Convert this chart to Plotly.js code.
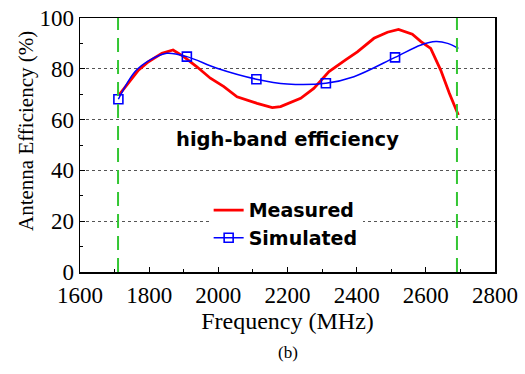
<!DOCTYPE html>
<html><head><meta charset="utf-8">
<script src="https://cdn.plot.ly/plotly-3.0.1.min.js"></script>
<style>html,body{margin:0;padding:0;background:#fff}#chart{width:525px;height:374px}</style>
</head><body><div id="chart"></div>
<script>
// Measured efficiency (MHz, %)
const measFreq = [1712,1735,1769,1798,1837,1869,1900,1938,1977,2016,2054,2112,2156,2180,2238,2276,2320,2368,2402,2450,2489,2521,2561,2586,2614,2643,2668,2694];
const measEff  = [69.5,73.6,79.5,82.8,86.1,87.4,84.8,80.8,76.3,73.0,69.0,66.4,64.7,65.1,68.4,72.3,78.9,83.5,86.7,92.0,94.4,95.5,93.6,90.7,88.0,79.5,70.4,61.8];
// Simulated efficiency curve
const simFreq = [1711,1760,1803,1851,1909,1996,2110,2199,2311,2392,2511,2586,2629,2663,2694];
const simEff  = [68.0,79.0,83.5,86.1,84.8,80.2,75.9,74.0,74.3,76.9,84.5,89.4,90.7,90.0,88.0];
// Simulated marker points
const simMarkFreq = [1711,1909,2110,2311,2511];
const simMarkEff  = [68.0,84.8,75.9,74.3,84.5];
// Band edges
const bandEdges = [1710,2690];
const xTicks = [1600,1800,2000,2200,2400,2600,2800];
const yTicks = [0,20,40,60,80,100];

const blue = '#0000ff', red = '#ff0000';
const serif = 'Liberation Serif, Times New Roman, serif';
const bold = 'DejaVu Sans, Verdana, sans-serif';

const traces = [
  {x: measFreq, y: measEff, mode: 'lines', name: 'Measured',
   line: {color: red, width: 2.8}},
  {x: simFreq, y: simEff, mode: 'lines', showlegend: false, legendgroup: 'sim',
   line: {color: blue, width: 1.5, shape: 'spline', smoothing: 1}},
  {x: simMarkFreq, y: simMarkEff, mode: 'markers', showlegend: false, legendgroup: 'sim',
   marker: {symbol: 'square-open', size: 9, color: blue, line: {width: 1.6, color: blue}}},
  {x: [null], y: [null], mode: 'lines+markers', name: 'Simulated', legendgroup: 'sim',
   line: {color: blue, width: 1.5},
   marker: {symbol: 'square-open', size: 9, color: blue, line: {width: 1.6, color: blue}}}
];

const shapes = bandEdges.map(f => ({
  type: 'line', xref: 'x', yref: 'y', x0: f, x1: f, y0: 0, y1: 100,
  line: {color: '#33c633', width: 2, dash: '14px,8px'}, layer: 'above'
}));

const layout = {
  width: 525, height: 374,
  margin: {l: 80, r: 30, t: 18, b: 102},
  paper_bgcolor: '#fff', plot_bgcolor: '#fff',
  showlegend: true,
  legend: {x: 0.31, y: 0.318, xanchor: 'left', yanchor: 'top', bgcolor: '#fff',
    font: {family: bold, size: 19, color: '#000', weight: 'bold'}, tracegroupgap: 0},
  xaxis: {range: [1600, 2800], tickvals: xTicks, ticks: 'inside', ticklen: 5,
    tickcolor: '#000', showline: true, linecolor: '#000', linewidth: 1.5, mirror: true,
    showgrid: false, zeroline: false, ticklabelstandoff: 2,
    minor: {dtick: 100, tick0: 1600, ticks: 'inside', ticklen: 3, tickcolor: '#000', showgrid: false},
    tickfont: {family: serif, size: 23, color: '#000'},
    title: {text: 'Frequency (MHz)', font: {family: serif, size: 24, color: '#000'}, standoff: 2}},
  yaxis: {range: [0, 100], tickvals: yTicks, ticks: 'inside', ticklen: 5,
    tickcolor: '#000', showline: true, linecolor: '#000', linewidth: 1.5, mirror: true,
    showgrid: true, gridcolor: '#555', griddash: 'dot', gridwidth: 1, zeroline: false,
    minor: {dtick: 10, tick0: 0, ticks: 'inside', ticklen: 3, tickcolor: '#000', showgrid: false},
    tickfont: {family: serif, size: 23, color: '#000'}},
  shapes: shapes,
  annotations: [
    {x: 2200, y: 52, xref: 'x', yref: 'y', text: '<b>high-band efficiency</b>', showarrow: false,
     font: {family: bold, size: 19.5, color: '#000'}},
    {x: 0, y: 1, xref: 'paper', yref: 'paper', xshift: -54, yshift: -113, xanchor: 'center', yanchor: 'middle',
     textangle: -90, text: 'Antenna Efficiency (%)', showarrow: false,
     font: {family: serif, size: 21, color: '#000'}},
    {x: 0.5, y: 0, xref: 'paper', yref: 'paper', yshift: -80, xanchor: 'center', yanchor: 'middle',
     text: '(b)', showarrow: false, font: {family: serif, size: 17, color: '#000'}}
  ]
};

Plotly.newPlot('chart', traces, layout, {displayModeBar: false, staticPlot: true});
</script></body></html>
